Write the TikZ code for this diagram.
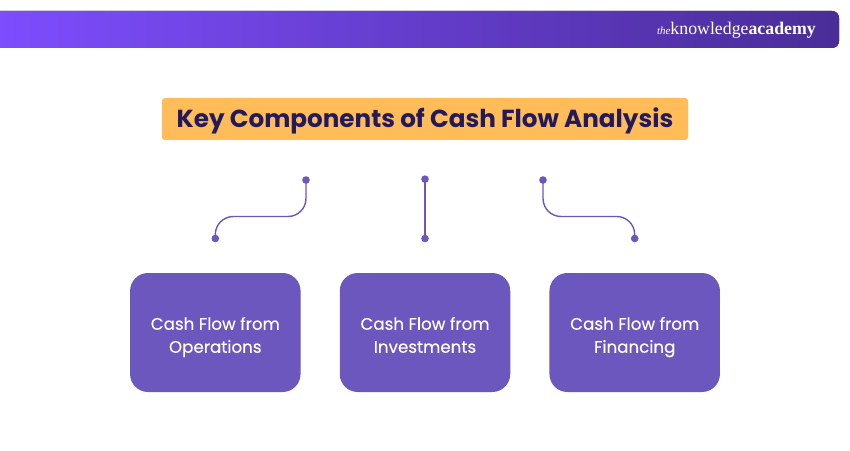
\documentclass[tikz,border=0pt]{standalone}
\usepackage{fontspec}
\setmainfont{Poppins}
\newfontfamily\itemfont[FakeBold=0.25]{Poppins}
\newfontfamily\logofont{Liberation Serif}
\usetikzlibrary{
    positioning
}
\definecolor{barleft}{HTML}{7E4DFF}
\definecolor{barright}{HTML}{4A2D98}
\definecolor{titlefill}{HTML}{FFBC58}
\definecolor{titletext}{HTML}{231A5E}
\definecolor{boxfill}{HTML}{6C57BE}
\def\hsep{38.8pt}
\def\vsep{30.3pt}
\tikzset{
    title/.style = {
        fill = titlefill,
        rounded corners = 3pt,
        minimum height = 42pt,
        minimum width  = 526pt,
        inner sep = 0pt,
        text height = 18pt,
        text depth = 0pt,
        text = titletext,
        font = \fontsize{24.65}{30}\selectfont\bfseries,
    },
    item/.style = {
        fill = boxfill,
        rounded corners = 18pt,
        minimum height = 119pt,
        minimum width  = 170.5pt,
        inner sep = 0pt,
        align = center,
        text height = 40.5pt,
        text depth = 0pt,
        text = white,
        font = \fontsize{16.7}{23}\selectfont\itemfont,
    },
    dot/.style = {
        circle,
        fill = boxfill,
        minimum size = 7.6pt,
        inner sep = 0pt,
    },
    link/.style = {
        draw = boxfill,
        line width = 1.4pt,
        rounded corners = 18pt,
    },
}
\begin{document}
\begin{tikzpicture}[x=1pt, y=1pt]
        \useasboundingbox (0,0) rectangle (850,450);

        % header bar
        \fill [left color=barleft, right color=barright, rounded corners=7pt]
            (-10,402) rectangle (839,439);
        \node (logo) [anchor=east, text=white, inner sep=0pt] at (816,419.5) {%
            \logofont\fontsize{17.8}{20}\selectfont
            {\fontsize{11}{20}\selectfont\itshape the}knowledge\textbf{academy}};

        \node (title) [title] at (425,331) {Key Components of Cash Flow Analysis};

        % boxes
        \node (box1) [item] at (215.3,117.5) {Cash Flow from\\Operations};
        \node (box2) [item, right=\hsep of box1] {Cash Flow from\\Investments};
        \node (box3) [item, right=\hsep of box2] {Cash Flow from\\Financing};

        % dots
        \node (dot1) [dot, above=\vsep of box1] {};
        \node (dot2) [dot, above=\vsep of box2] {};
        \node (dot3) [dot, above=\vsep of box3] {};
        \node (top1) [dot] at (306,270) {};
        \node (top2) [dot, above=51.4pt of dot2] {};
        \node (top3) [dot] at (543,270) {};

        \coordinate (bend1) at ([yshift=22pt]dot1.center);
        \coordinate (bend3) at ([yshift=22pt]dot3.center);

        \draw [link] (top1.center) |- (bend1) -- (dot1.center);
        \draw [link] (top2.center) -- (dot2.center);
        \draw [link] (top3.center) |- (bend3) -- (dot3.center);

    \end{tikzpicture}
\end{document}
